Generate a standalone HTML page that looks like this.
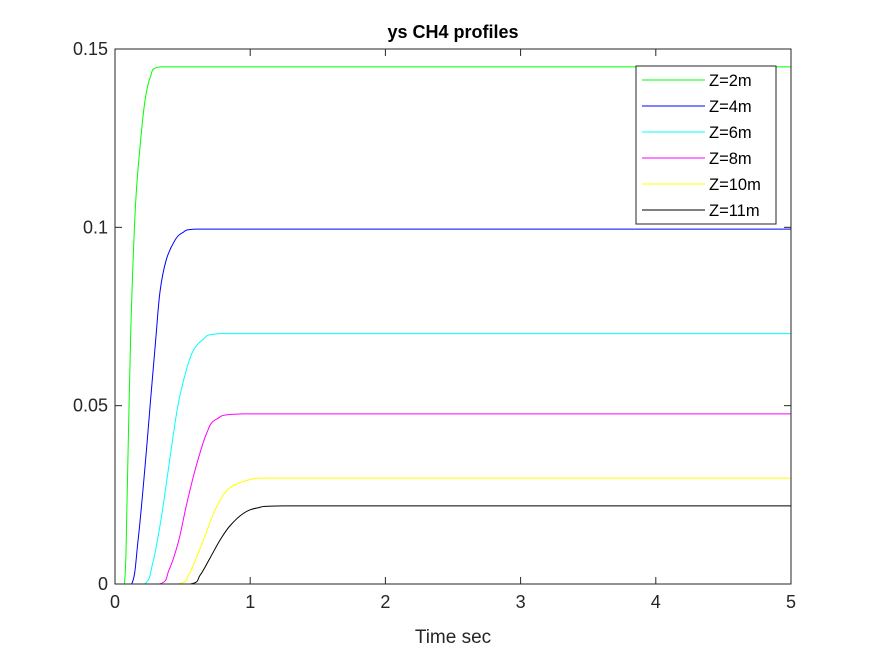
<!DOCTYPE html>
<html><head><meta charset="utf-8"><style>
body{margin:0;background:#fff;}
svg{font-family:"Liberation Sans",Arial,sans-serif;}
</style></head><body>
<svg id="chart" width="875" height="656">
<rect x="0" y="0" width="875" height="656" fill="#fff"/>
<rect x="115" y="49" width="676" height="535" fill="#fff"/>
<g id="series"></g>
<rect x="115" y="49" width="676" height="535" fill="none" stroke="#262626" stroke-width="1"/>
<g id="ticks"></g>
<text x="453" y="38" text-anchor="middle" font-size="18" font-weight="bold" fill="#000">ys CH4 profiles</text>
<text x="453" y="643" text-anchor="middle" font-size="19" fill="#262626">Time sec</text>
<g id="legend"></g>
</svg>
<script>
const xTicks=[0,1,2,3,4,5];
const yTicks=[0,0.05,0.1,0.15];
const yTickLabels=["0","0.05","0.1","0.15"];
const seriesNames=["Z=2m","Z=4m","Z=6m","Z=8m","Z=10m","Z=11m"];
const seriesColors=["#00ff00","#0000ff","#00ffff","#ff00ff","#ffff00","#000000"];
const tGreen=[0,0.069,0.09,0.116,0.15,0.185,0.22,0.26,0.33,5];
const yGreen=[0,0,0.025,0.07,0.105,0.1225,0.135,0.142,0.145,0.145];
const tBlue=[0,0.123,0.17,0.22,0.264,0.3,0.333,0.38,0.444,0.5,0.6,5];
const yBlue=[0,0,0.012,0.032,0.052,0.068,0.082,0.091,0.0964,0.0985,0.0995,0.0995];
const tCyan=[0,0.217,0.28,0.34,0.394,0.456,0.5,0.567,0.65,0.78,5];
const yCyan=[0,0,0.006,0.018,0.032,0.048,0.056,0.0645,0.0685,0.0702,0.0702];
const tMagenta=[0,0.328,0.4,0.47,0.53,0.6,0.678,0.75,0.95,5];
const yMagenta=[0,0,0.004,0.012,0.0224,0.033,0.0423,0.0462,0.0477,0.0477];
const tYellow=[0,0.456,0.55,0.653,0.72,0.777,0.85,1.0,1.15,5];
const yYellow=[0,0,0.003,0.0123,0.019,0.0234,0.027,0.0293,0.0297,0.0297];
const tBlack=[0,0.555,0.63,0.703,0.78,0.85,0.95,1.05,1.24,5];
const yBlack=[0,0,0.0025,0.0073,0.0125,0.0163,0.0198,0.0213,0.0219,0.0219];

const NS="http://www.w3.org/2000/svg";
const X0=115,X1=791,Y0=584,Y1=49;
function sx(t){return X0+(t-0)/(5-0)*(X1-X0);}
function sy(v){return Y0-(v-0)/(0.15-0)*(Y0-Y1);}
const allT=[tGreen,tBlue,tCyan,tMagenta,tYellow,tBlack];
const allY=[yGreen,yBlue,yCyan,yMagenta,yYellow,yBlack];
const sg=document.getElementById('series');
const keys=["z2m","z4m","z6m","z8m","z10m","z11m"];
for(let i=0;i<allT.length;i++){
  const T=allT[i],Y=allY[i];
  const p=T.map((t,j)=>[sx(t),sy(Y[j])]);
  let d="M"+p[0][0].toFixed(2)+","+p[0][1].toFixed(2);
  for(let j=0;j<p.length-1;j++){
    const p0=p[Math.max(j-1,0)],p1=p[j],p2=p[j+1],p3=p[Math.min(j+2,p.length-1)];
    let c1x=p1[0]+(p2[0]-p0[0])/6,c1y=p1[1]+(p2[1]-p0[1])/6;
    let c2x=p2[0]-(p3[0]-p1[0])/6,c2y=p2[1]-(p3[1]-p1[1])/6;
    c1x=Math.min(Math.max(c1x,p1[0]),p2[0]);c2x=Math.min(Math.max(c2x,p1[0]),p2[0]);
    const lo=Math.min(p1[1],p2[1]),hi=Math.max(p1[1],p2[1]);
    c1y=Math.min(Math.max(c1y,lo),hi);c2y=Math.min(Math.max(c2y,lo),hi);
    d+=" C"+c1x.toFixed(2)+","+c1y.toFixed(2)+" "+c2x.toFixed(2)+","+c2y.toFixed(2)+" "+p2[0].toFixed(2)+","+p2[1].toFixed(2);
  }
  const el=document.createElementNS(NS,'path');
  el.setAttribute('d',d);el.setAttribute('fill','none');
  el.setAttribute('stroke',seriesColors[i]);el.setAttribute('stroke-width','1');
  
  
  sg.appendChild(el);
}
const tg=document.getElementById('ticks');
function add(tag,attrs,parent){const e=document.createElementNS(NS,tag);for(const k in attrs)e.setAttribute(k,attrs[k]);parent.appendChild(e);return e;}
xTicks.forEach(t=>{
  const x=sx(t);
  const a=add('line',{x1:x,y1:Y0,x2:x,y2:Y0-7,stroke:'#262626'},tg);
  
  
  const b=add('line',{x1:x,y1:Y1,x2:x,y2:Y1+7,stroke:'#262626'},tg);
  
  
  const l=add('text',{x:x,y:Y0+24,'text-anchor':'middle','font-size':'18',fill:'#262626'},tg);
  l.textContent=String(t);
  
  
});
yTicks.forEach((v,i)=>{
  const y=sy(v);
  const a=add('line',{x1:X0,y1:y,x2:X0+7,y2:y,stroke:'#262626'},tg);
  
  
  const b=add('line',{x1:X1,y1:y,x2:X1-7,y2:y,stroke:'#262626'},tg);
  
  
  const l=add('text',{x:X0-7,y:y+6,'text-anchor':'end','font-size':'18',fill:'#262626'},tg);
  l.textContent=yTickLabels[i];
  
  
});
const lg=document.getElementById('legend');
const box=add('rect',{x:636,y:66,width:140,height:158,fill:'#fff',stroke:'#262626'},lg);


seriesNames.forEach((n,i)=>{
  const y=80+i*26;
  const ln=add('line',{x1:642,y1:y,x2:705,y2:y,stroke:seriesColors[i]},lg);
  
  
  const t=add('text',{x:709,y:y+6,'font-size':'16.5',fill:'#000'},lg);
  t.textContent=n;
  
  
});
</script>
</body></html>
